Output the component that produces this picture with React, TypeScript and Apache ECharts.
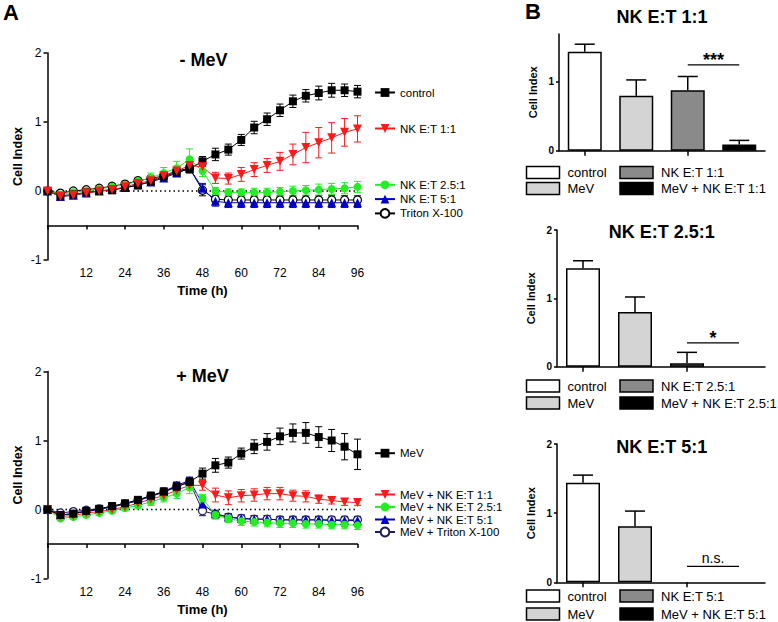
import React, { useEffect, useRef } from 'react';
import * as echarts from 'echarts';

const FONT = '"Liberation Sans", Arial, Helvetica, sans-serif';

// ---------- Panel A data (time in hours) ----------
const hours = [0, 4, 8, 12, 16, 20, 24, 28, 32, 36, 40, 44, 48, 52, 56, 60, 64, 68, 72, 76, 80, 84, 88, 92, 96];
const xTickLabels = ['12', '24', '36', '48', '60', '72', '84', '96'];

// - MeV
const controlVals = [0, -0.07, -0.05, -0.02, 0.0, 0.01, 0.05, 0.08, 0.14, 0.21, 0.27, 0.32, 0.43, 0.53, 0.6, 0.74, 0.92, 1.04, 1.17, 1.3, 1.38, 1.42, 1.46, 1.46, 1.44];
const controlErr = [0.02, 0.03, 0.03, 0.03, 0.03, 0.03, 0.03, 0.03, 0.04, 0.04, 0.05, 0.06, 0.07, 0.09, 0.08, 0.08, 0.09, 0.09, 0.09, 0.09, 0.09, 0.1, 0.1, 0.09, 0.09];
const nk1Vals = [0, -0.08, -0.06, -0.03, 0.0, 0.02, 0.06, 0.11, 0.15, 0.22, 0.29, 0.37, 0.35, 0.19, 0.18, 0.24, 0.31, 0.37, 0.43, 0.53, 0.63, 0.7, 0.77, 0.85, 0.9];
const nk1Err = [0.02, 0.03, 0.03, 0.03, 0.03, 0.03, 0.03, 0.04, 0.04, 0.05, 0.05, 0.06, 0.08, 0.08, 0.08, 0.1, 0.1, 0.1, 0.13, 0.15, 0.22, 0.22, 0.22, 0.2, 0.19];
const nk25Vals = [0, -0.05, -0.02, 0.0, 0.03, 0.06, 0.09, 0.14, 0.19, 0.26, 0.33, 0.46, 0.29, 0.0, -0.02, -0.02, -0.02, -0.02, -0.01, 0.0, 0.01, 0.02, 0.03, 0.04, 0.06];
const nk25Err = [0.02, 0.03, 0.03, 0.03, 0.03, 0.04, 0.05, 0.06, 0.07, 0.08, 0.1, 0.15, 0.08, 0.05, 0.05, 0.05, 0.06, 0.06, 0.06, 0.07, 0.07, 0.08, 0.08, 0.08, 0.08];
const nk5Vals = [0, -0.08, -0.06, -0.03, 0.0, 0.02, 0.05, 0.09, 0.13, 0.19, 0.26, 0.33, 0.04, -0.15, -0.17, -0.17, -0.17, -0.17, -0.17, -0.17, -0.17, -0.17, -0.17, -0.17, -0.17];
const nk5Err = [0.02, 0.03, 0.03, 0.03, 0.03, 0.03, 0.03, 0.04, 0.04, 0.05, 0.05, 0.06, 0.07, 0.07, 0.07, 0.07, 0.07, 0.07, 0.07, 0.07, 0.07, 0.07, 0.07, 0.07, 0.07];
const tritonVals = [0, -0.03, 0.0, 0.02, 0.04, 0.07, 0.1, 0.15, 0.18, 0.22, 0.29, 0.33, 0.01, -0.12, -0.13, -0.13, -0.13, -0.13, -0.13, -0.13, -0.13, -0.13, -0.13, -0.13, -0.13];
const tritonErr = [0.02, 0.03, 0.03, 0.03, 0.03, 0.03, 0.03, 0.04, 0.04, 0.05, 0.05, 0.06, 0.08, 0.06, 0.06, 0.06, 0.06, 0.06, 0.06, 0.06, 0.06, 0.06, 0.06, 0.06, 0.06];

// + MeV
const mevVals = [0, -0.08, -0.06, -0.02, 0.01, 0.05, 0.09, 0.14, 0.2, 0.26, 0.33, 0.4, 0.52, 0.64, 0.68, 0.81, 0.91, 0.98, 1.06, 1.11, 1.11, 1.05, 1.0, 0.91, 0.8];
const mevErr = [0.02, 0.03, 0.03, 0.03, 0.03, 0.03, 0.04, 0.04, 0.05, 0.05, 0.06, 0.06, 0.08, 0.1, 0.08, 0.08, 0.1, 0.12, 0.12, 0.13, 0.15, 0.15, 0.16, 0.19, 0.22];
const mevNk1Vals = [0, -0.1, -0.09, -0.05, -0.03, 0.0, 0.04, 0.09, 0.15, 0.2, 0.28, 0.35, 0.35, 0.21, 0.17, 0.2, 0.21, 0.23, 0.23, 0.2, 0.19, 0.15, 0.13, 0.11, 0.1];
const mevNk1Err = [0.02, 0.03, 0.03, 0.03, 0.03, 0.03, 0.03, 0.04, 0.04, 0.05, 0.05, 0.06, 0.07, 0.1, 0.1, 0.09, 0.09, 0.09, 0.09, 0.08, 0.08, 0.06, 0.05, 0.05, 0.04];
const mevNk25Vals = [0, -0.13, -0.11, -0.08, -0.05, -0.02, 0.02, 0.06, 0.11, 0.17, 0.23, 0.32, 0.16, -0.08, -0.13, -0.17, -0.18, -0.19, -0.2, -0.2, -0.21, -0.21, -0.22, -0.22, -0.23];
const mevNk25Err = [0.02, 0.03, 0.03, 0.03, 0.03, 0.03, 0.04, 0.05, 0.05, 0.06, 0.07, 0.09, 0.06, 0.06, 0.06, 0.06, 0.06, 0.06, 0.06, 0.06, 0.06, 0.06, 0.06, 0.06, 0.06];
const mevNk5Vals = [0, -0.08, -0.06, -0.03, 0.0, 0.04, 0.08, 0.13, 0.19, 0.26, 0.35, 0.42, 0.08, -0.06, -0.11, -0.13, -0.14, -0.14, -0.15, -0.15, -0.15, -0.15, -0.16, -0.16, -0.16];
const mevNk5Err = [0.02, 0.03, 0.03, 0.03, 0.03, 0.03, 0.03, 0.04, 0.04, 0.05, 0.05, 0.05, 0.06, 0.05, 0.05, 0.05, 0.05, 0.05, 0.05, 0.05, 0.05, 0.05, 0.05, 0.05, 0.05];
const mevTritonVals = [0, -0.05, -0.03, -0.01, 0.01, 0.04, 0.08, 0.13, 0.19, 0.25, 0.33, 0.4, -0.02, -0.07, -0.11, -0.13, -0.14, -0.14, -0.15, -0.15, -0.15, -0.15, -0.15, -0.15, -0.15];
const mevTritonErr = [0.02, 0.03, 0.03, 0.03, 0.03, 0.03, 0.03, 0.04, 0.04, 0.05, 0.05, 0.05, 0.07, 0.05, 0.05, 0.05, 0.05, 0.05, 0.05, 0.05, 0.05, 0.05, 0.05, 0.05, 0.05];

// ---------- Panel B data ----------
const bCategories = ['control', 'MeV', 'NK', 'MeV + NK'];
const b1Vals = [1.44, 0.8, 0.88, 0.09];
const b1Err = [0.11, 0.23, 0.2, 0.06];
const b2Vals = [1.44, 0.8, 0.05, 0];
const b2Err = [0.11, 0.22, 0.16, 0];
const b3Vals = [1.44, 0.81, 0, 0];
const b3Err = [0.11, 0.22, 0, 0];
const b1Sig = [2, 3, 1.25, '***'];
const b2Sig = [2, 3, 0.35, '*'];
const b3Sig = [2, 3, 0.23, 'n.s.'];
const b1Legend = ['control', 'NK E:T 1:1', 'MeV', 'MeV + NK E:T 1:1'];
const b2Legend = ['control', 'NK E:T 2.5:1', 'MeV', 'MeV + NK E:T 2.5:1'];
const b3Legend = ['control', 'NK E:T 5:1', 'MeV', 'MeV + NK E:T 5:1'];
const bTitles = ['NK E:T 1:1', 'NK E:T 2.5:1', 'NK E:T 5:1'];

const barColors = ['#ffffff', '#d4d4d4', '#8a8a8a', '#000000'];
const legendBoxColors = ['#ffffff', '#8a8a8a', '#d4d4d4', '#000000'];

const RED = '#ff1a1a';
const GREEN = '#22ee22';
const BLUE = '#0000c8';
const NAVY = '#1e1e5a';

const axisLineStyle = { color: '#000', width: 1.5 };

function lineSeries(name: string, vals: number[], color: string, symbol: string, rotate: number, xi: number, yi: number, hollow = false, size = 8) {
  return {
    type: 'line',
    name,
    xAxisIndex: xi,
    yAxisIndex: yi,
    data: hours.map((t, i) => [t, vals[i]]),
    symbol,
    symbolSize: size,
    symbolRotate: rotate,
    showSymbol: true,
    color,
    lineStyle: { color, width: 1 },
    itemStyle: hollow ? { color: '#fff', borderColor: color, borderWidth: 1.2 } : { color },
    z: 4,
    silent: true,
  };
}

function errSeries(vals: number[], errs: number[], color: string, xi: number, yi: number) {
  return {
    type: 'custom',
    xAxisIndex: xi,
    yAxisIndex: yi,
    silent: true,
    z: 3,
    dimensions: ['x', 'y', 'e'],
    encode: { x: 0, y: 1 },
    data: hours.map((t, i) => [t, vals[i], errs[i]]),
    renderItem: (params: any, api: any) => {
      const x = api.value(0);
      const v = api.value(1);
      const e = api.value(2);
      const top = api.coord([x, v + e]);
      const bot = api.coord([x, v - e]);
      const cx = top[0];
      const hw = 3.5;
      const st = { stroke: color, lineWidth: 1 };
      return {
        type: 'group',
        children: [
          { type: 'line', shape: { x1: cx, y1: top[1], x2: cx, y2: bot[1] }, style: st },
          { type: 'line', shape: { x1: cx - hw, y1: top[1], x2: cx + hw, y2: top[1] }, style: st },
          { type: 'line', shape: { x1: cx - hw, y1: bot[1], x2: cx + hw, y2: bot[1] }, style: st },
        ],
      };
    },
  };
}

function zeroLine(xi: number, yi: number) {
  return {
    type: 'line',
    xAxisIndex: xi,
    yAxisIndex: yi,
    data: [[0, 0], [96, 0]],
    symbol: 'none',
    lineStyle: { color: '#000', width: 1.5, type: [1.5, 3] },
    z: 1,
    silent: true,
  };
}

function xAxisA(grid: number, onZeroIdx: number) {
  return {
    type: 'value',
    gridIndex: grid,
    min: 0,
    max: 96,
    interval: 12,
    axisLine: { show: true, onZero: true, onZeroAxisIndex: onZeroIdx, lineStyle: axisLineStyle },
    axisTick: { show: true, length: 4, lineStyle: axisLineStyle },
    axisLabel: {
      color: '#000', fontSize: 12, fontFamily: FONT, margin: 7,
      formatter: (v: number) => (xTickLabels.indexOf(String(v)) >= 0 ? String(v) : ''),
    },
    splitLine: { show: false },
    name: 'Time (h)',
    nameLocation: 'middle',
    nameGap: 24,
    nameTextStyle: { fontWeight: 'bold', fontSize: 13, color: '#000', fontFamily: FONT },
  };
}

function yAxisA(grid: number) {
  return {
    type: 'value',
    gridIndex: grid,
    min: -1,
    max: 2,
    interval: 1,
    axisLine: { show: true, onZero: false, lineStyle: axisLineStyle },
    axisTick: { show: true, length: 4, lineStyle: axisLineStyle },
    axisLabel: { color: '#000', fontSize: 12, fontFamily: FONT, margin: 6 },
    splitLine: { show: false },
    name: 'Cell Index',
    nameLocation: 'middle',
    nameGap: 23,
    nameTextStyle: { fontWeight: 'bold', fontSize: 12.5, color: '#000', fontFamily: FONT },
  };
}

function hiddenY(grid: number) {
  return { type: 'value', gridIndex: grid, min: -0.5, max: 2.5, show: false, splitLine: { show: false } };
}

function xAxisB(grid: number) {
  return {
    type: 'category',
    gridIndex: grid,
    data: bCategories,
    axisLine: { show: true, lineStyle: axisLineStyle },
    axisTick: { show: true, alignWithLabel: true, length: 5, lineStyle: axisLineStyle },
    axisLabel: { show: false },
    splitLine: { show: false },
    z: 3,
  };
}

function yAxisB(grid: number, max: number) {
  const vals = max >= 2 ? [0, 1, 2] : [0, 1];
  return {
    type: 'value',
    gridIndex: grid,
    min: 0,
    max,
    interval: 1,
    axisLine: { show: true, onZero: false, lineStyle: axisLineStyle },
    axisTick: { show: true, length: 3, lineStyle: axisLineStyle, customValues: vals },
    axisLabel: { color: '#000', fontSize: 10, fontWeight: 'bold', fontFamily: FONT, margin: 5, customValues: vals },
    splitLine: { show: false },
    name: 'Cell Index',
    nameLocation: 'middle',
    nameGap: 21,
    nameTextStyle: { fontWeight: 'bold', fontSize: 11, color: '#000', fontFamily: FONT },
  };
}

function barSeries(vals: number[], xi: number, yi: number) {
  return {
    type: 'bar',
    xAxisIndex: xi,
    yAxisIndex: yi,
    barWidth: 34,
    silent: true,
    z: 2,
    data: vals.map((v, i) => ({
      value: v,
      itemStyle: { color: barColors[i], borderColor: '#000', borderWidth: v === 0 ? 0 : 1.5 },
    })),
  };
}

function barErrSeries(vals: number[], errs: number[], xi: number, yi: number) {
  return {
    type: 'custom',
    xAxisIndex: xi,
    yAxisIndex: yi,
    silent: true,
    z: 1,
    dimensions: ['x', 'y', 'e'],
    encode: { x: 0, y: 1 },
    data: vals.map((v, i) => [i, v, errs[i]]),
    renderItem: (params: any, api: any) => {
      const i = api.value(0);
      const v = api.value(1);
      const e = api.value(2);
      if (!e) return { type: 'group', children: [] };
      const base = api.coord([i, v]);
      const top = api.coord([i, v + e]);
      const st = { stroke: '#000', lineWidth: 1.5 };
      return {
        type: 'group',
        children: [
          { type: 'line', shape: { x1: base[0], y1: base[1], x2: top[0], y2: top[1] }, style: st },
          { type: 'line', shape: { x1: top[0] - 10, y1: top[1], x2: top[0] + 10, y2: top[1] }, style: st },
        ],
      };
    },
  };
}

function sigSeries(sig: any[], xi: number, yi: number) {
  return {
    type: 'custom',
    xAxisIndex: xi,
    yAxisIndex: yi,
    silent: true,
    z: 5,
    data: [[sig[0], sig[1], sig[2]]],
    renderItem: (params: any, api: any) => {
      const a = api.coord([api.value(0), api.value(2)]);
      const b = api.coord([api.value(1), api.value(2)]);
      const label = String(sig[3]);
      const star = label.indexOf('*') >= 0;
      return {
        type: 'group',
        children: [
          { type: 'line', shape: { x1: a[0], y1: a[1], x2: b[0], y2: b[1] }, style: { stroke: '#000', lineWidth: 1.3 } },
          {
            type: 'text',
            x: (a[0] + b[0]) / 2,
            y: star ? a[1] + 4 : a[1] - 1,
            style: {
              text: label,
              fontFamily: FONT,
              fontSize: star ? 18 : 14,
              fontWeight: star ? 'bold' : 'normal',
              fill: '#000',
              align: 'center',
              verticalAlign: 'bottom',
            },
          },
        ],
      };
    },
  };
}

function bLegendGraphics(labels: string[], row1: number, row2: number) {
  const out: any[] = [];
  const cols = [526.5, 620];
  const rows = [row1, row2];
  labels.forEach((lab, i) => {
    const cx = cols[i % 2];
    const cy = rows[Math.floor(i / 2)];
    out.push({
      type: 'rect',
      shape: { x: cx, y: cy - 6, width: 33, height: 12 },
      style: { fill: legendBoxColors[i], stroke: '#000', lineWidth: 1.5 },
      silent: true,
    });
    out.push({
      type: 'text',
      x: cx + 41,
      y: cy,
      style: { text: lab, fontFamily: FONT, fontSize: 13, fill: '#000', align: 'left', verticalAlign: 'middle' },
      silent: true,
    });
  });
  return out;
}

function textG(text: string, x: number, y: number, size: number, align = 'center') {
  return {
    type: 'text',
    x,
    y,
    silent: true,
    style: { text, fontFamily: FONT, fontSize: size, fontWeight: 'bold', fill: '#000', align, verticalAlign: 'middle' },
  };
}

const legendBase = {
  orient: 'vertical',
  left: 374,
  itemWidth: 20,
  itemHeight: 11,
  padding: 0,
  selectedMode: false,
  textStyle: { fontSize: 11.5, fontFamily: FONT, color: '#000' },
};

export default function App() {
  const ref = useRef<HTMLDivElement>(null);

  useEffect(() => {
    if (!ref.current) return;
    const chart = echarts.init(ref.current, undefined, { renderer: 'svg' });

    const option: any = {
      animation: false,
      backgroundColor: '#fff',
      grid: [
        { left: 47.5, top: 53, width: 310, height: 207, outerBoundsMode: 'none', containLabel: false },
        { left: 47.5, top: 371.5, width: 310, height: 207, outerBoundsMode: 'none', containLabel: false },
        { left: 559, top: 33.9, width: 206, height: 116.8, outerBoundsMode: 'none', containLabel: false },
        { left: 557, top: 230, width: 208, height: 136.7, outerBoundsMode: 'none', containLabel: false },
        { left: 557, top: 444, width: 208, height: 138.3, outerBoundsMode: 'none', containLabel: false },
      ],
      xAxis: [xAxisA(0, 1), xAxisA(1, 3), xAxisB(2), xAxisB(3), xAxisB(4)],
      yAxis: [yAxisA(0), hiddenY(0), yAxisA(1), hiddenY(1), yAxisB(2, 1.7), yAxisB(3, 2), yAxisB(4, 2)],
      legend: [
        { ...legendBase, data: ['control'], top: 92 - 5.5 },
        { ...legendBase, data: ['NK E:T 1:1'], top: 128 - 5.5 },
        { ...legendBase, data: ['NK E:T 2.5:1', 'NK E:T 5:1', 'Triton X-100'], top: 184.3 - 5.5, itemGap: 2.3 },
        { ...legendBase, data: ['MeV'], top: 452.7 - 5.5 },
        { ...legendBase, data: ['MeV + NK E:T 1:1', 'MeV + NK E:T 2.5:1', 'MeV + NK E:T 5:1', 'MeV + Triton X-100'], top: 494 - 5.5, itemGap: 0.5 },
      ],
      series: [
        zeroLine(0, 0),
        errSeries(tritonVals, tritonErr, '#000', 0, 0),
        errSeries(nk5Vals, nk5Err, BLUE, 0, 0),
        errSeries(nk25Vals, nk25Err, GREEN, 0, 0),
        errSeries(controlVals, controlErr, '#000', 0, 0),
        errSeries(nk1Vals, nk1Err, RED, 0, 0),
        lineSeries('Triton X-100', tritonVals, '#000', 'circle', 0, 0, 0, true, 8),
        lineSeries('NK E:T 5:1', nk5Vals, BLUE, 'triangle', 0, 0, 0, false, 9),
        lineSeries('NK E:T 2.5:1', nk25Vals, GREEN, 'circle', 0, 0, 0, false, 8),
        lineSeries('control', controlVals, '#000', 'rect', 0, 0, 0, false, 8),
        lineSeries('NK E:T 1:1', nk1Vals, RED, 'triangle', 180, 0, 0, false, 9),

        zeroLine(1, 2),
        errSeries(mevTritonVals, mevTritonErr, NAVY, 1, 2),
        errSeries(mevNk5Vals, mevNk5Err, BLUE, 1, 2),
        errSeries(mevNk25Vals, mevNk25Err, GREEN, 1, 2),
        errSeries(mevNk1Vals, mevNk1Err, RED, 1, 2),
        errSeries(mevVals, mevErr, '#000', 1, 2),
        lineSeries('MeV + Triton X-100', mevTritonVals, NAVY, 'circle', 0, 1, 2, true, 8),
        lineSeries('MeV + NK E:T 5:1', mevNk5Vals, BLUE, 'triangle', 0, 1, 2, false, 9),
        lineSeries('MeV + NK E:T 2.5:1', mevNk25Vals, GREEN, 'circle', 0, 1, 2, false, 8),
        lineSeries('MeV + NK E:T 1:1', mevNk1Vals, RED, 'triangle', 180, 1, 2, false, 9),
        lineSeries('MeV', mevVals, '#000', 'rect', 0, 1, 2, false, 8),

        barErrSeries(b1Vals, b1Err, 2, 4),
        barSeries(b1Vals, 2, 4),
        sigSeries(b1Sig, 2, 4),
        barErrSeries(b2Vals, b2Err, 3, 5),
        barSeries(b2Vals, 3, 5),
        sigSeries(b2Sig, 3, 5),
        barErrSeries(b3Vals, b3Err, 4, 6),
        barSeries(b3Vals, 4, 6),
        sigSeries(b3Sig, 4, 6),
      ],
      graphic: [
        textG('A', 3, 12.5, 22, 'left'),
        textG('B', 525, 11.5, 22, 'left'),
        textG('- MeV', 203.5, 59.5, 18),
        textG('+ MeV', 202.5, 375.5, 18),
        textG(bTitles[0], 662, 16.5, 18),
        textG(bTitles[1], 661.7, 231.7, 18),
        textG(bTitles[2], 661.7, 446.7, 18),
        ...bLegendGraphics(b1Legend, 172.5, 188.5),
        ...bLegendGraphics(b2Legend, 386, 403),
        ...bLegendGraphics(b3Legend, 596, 614),
      ],
    };

    chart.setOption(option);
    return () => {
      chart.dispose();
    };
  }, []);

  return (
    <div
      ref={ref}
      style={{ position: 'absolute', left: 0, top: 0, width: 778, height: 622, background: '#fff' }}
    />
  );
}
